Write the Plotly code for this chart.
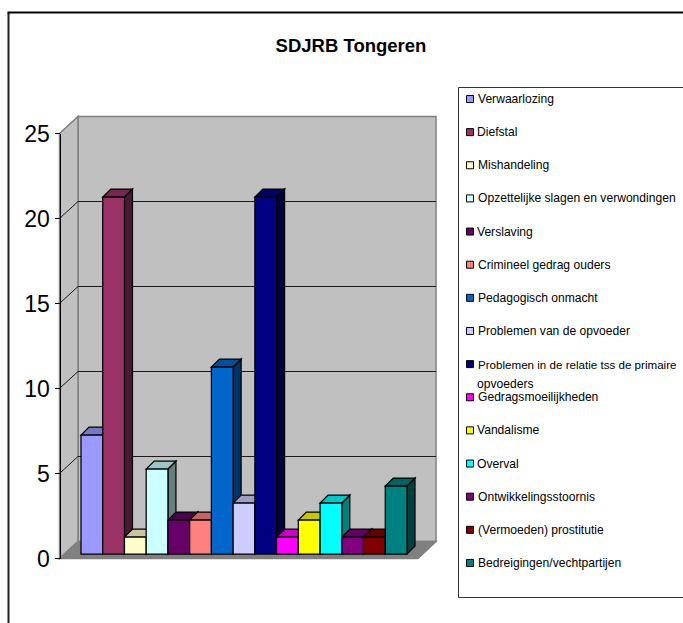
import plotly.graph_objects as go

title = "SDJRB Tongeren"
categories = ["Verwaarlozing", "Diefstal", "Mishandeling", "Opzettelijke slagen en verwondingen",
              "Verslaving", "Crimineel gedrag ouders", "Pedagogisch onmacht", "Problemen van de opvoeder",
              "Problemen in de relatie tss de primaire opvoeders", "Gedragsmoeilijkheden", "Vandalisme",
              "Overval", "Ontwikkelingsstoornis", "(Vermoeden) prostitutie", "Bedreigingen/vechtpartijen"]
values = [7, 21, 1, 5, 2, 2, 11, 3, 21, 1, 2, 3, 1, 1, 4]
colors = ["#9999FF", "#993366", "#FFFFCC", "#CCFFFF", "#660066", "#FF8080", "#0066CC", "#CCCCFF",
          "#000080", "#FF00FF", "#FFFF00", "#00FFFF", "#800080", "#800000", "#008080"]
tick_values = [0, 5, 10, 15, 20, 25]

W, H = 683, 623
fx = lambda px: px / W
fy = lambda py: 1 - py / H

# pixel scale of the bar plane
bar_left, x_unit = 81.0, 326.0 / 15
bar_base, y_unit = 554.0, 17.0
dx_px, dy_px = 8.0, 8.0
dx, dy = dx_px / x_unit, dy_px / y_unit
plot_l, plot_r, plot_t, plot_b = 20.0, 450.0, 100.0, 570.0
x_range = [(plot_l - bar_left) / x_unit - 0.5, (plot_r - bar_left) / x_unit - 0.5]
y_range = [(bar_base - plot_b) / y_unit, (bar_base - plot_t) / y_unit]


def shade(hex_color, k):
    r, g, b = (int(hex_color[i:i + 2], 16) for i in (1, 3, 5))
    return f"rgb({int(r * k)},{int(g * k)},{int(b * k)})"


def poly(points):
    return "M " + " L ".join(f"{x},{y}" for x, y in points) + " Z"


shapes = []
annotations = []

# chart frame (left and top edges are visible)
frame_x, frame_y = 8.5, 12.5
shapes.append(dict(type="line", xref="paper", yref="paper", x0=fx(frame_x), x1=fx(frame_x),
                   y0=fy(frame_y), y1=fy(H), line=dict(color="#222222", width=2)))
shapes.append(dict(type="line", xref="paper", yref="paper", x0=fx(frame_x - 1), x1=fx(W),
                   y0=fy(frame_y), y1=fy(frame_y), line=dict(color="#000000", width=2)))

# 3-D walls
front_x0, front_x1, back_x0, back_x1 = 59.5, 418.0, 78.0, 436.0
front_zero, back_zero, wall_unit = 558.5, 541.5, 17.0
back_top = back_zero - 25 * wall_unit
front_top = front_zero - 25 * wall_unit
wall_line = dict(color="#808080", width=1.5)
shapes.append(dict(type="path", xref="paper", yref="paper", layer="below", fillcolor="#C0C0C0", line=wall_line,
                   path=poly([(fx(back_x0), fy(back_top)), (fx(back_x1), fy(back_top)),
                              (fx(back_x1), fy(back_zero)), (fx(back_x0), fy(back_zero))])))
shapes.append(dict(type="path", xref="paper", yref="paper", layer="below", fillcolor="#C0C0C0", line=wall_line,
                   path=poly([(fx(front_x0), fy(front_top)), (fx(back_x0), fy(back_top)),
                              (fx(back_x0), fy(back_zero)), (fx(front_x0), fy(front_zero))])))
shapes.append(dict(type="path", xref="paper", yref="paper", layer="below", fillcolor="#808080", line=wall_line,
                   path=poly([(fx(front_x0), fy(front_zero)), (fx(back_x0), fy(back_zero)),
                              (fx(back_x1), fy(back_zero)), (fx(front_x1), fy(front_zero))])))
for t in tick_values[1:-1]:
    yb = back_zero - t * wall_unit
    shapes.append(dict(type="line", xref="paper", yref="paper", layer="below", x0=fx(back_x0), x1=fx(back_x1),
                       y0=fy(yb), y1=fy(yb), line=dict(color="#1a1a1a", width=1)))
for t in tick_values[1:]:
    yb = back_zero - t * wall_unit
    yf = front_zero - t * wall_unit
    shapes.append(dict(type="line", xref="paper", yref="paper", layer="below", x0=fx(front_x0), x1=fx(back_x0),
                       y0=fy(yf), y1=fy(yb),
                       line=dict(color="#1a1a1a" if t < 25 else "#808080", width=1)))

# top and side faces of every bar, derived from its value
edge = dict(color="#000000", width=1.25)
for i, (v, c) in enumerate(zip(values, colors)):
    l, r = i - 0.5, i + 0.5
    shapes.append(dict(type="path", xref="x", yref="y", layer="below", fillcolor=shade(c, 0.5), line=edge,
                       path=poly([(r, 0), (r + dx, dy), (r + dx, v + dy), (r, v)])))
    shapes.append(dict(type="path", xref="x", yref="y", layer="below", fillcolor=shade(c, 0.78), line=edge,
                       path=poly([(l, v), (r, v), (r + dx, v + dy), (l + dx, v + dy)])))

# legend box
leg_l, leg_t, leg_b = 458.5, 87.5, 597.5
shapes.append(dict(type="path", xref="paper", yref="paper", line=dict(color="#333333", width=1),
                   fillcolor="white",
                   path=poly([(fx(leg_l), fy(leg_t)), (fx(W + 5), fy(leg_t)), (fx(W + 5), fy(leg_b)), (fx(leg_l), fy(leg_b))])))
row0, row_step = 99.0, 33.14
for i, (name, c) in enumerate(zip(categories, colors)):
    yc = row0 + i * row_step
    shapes.append(dict(type="rect", xref="paper", yref="paper", x0=fx(466.5), x1=fx(473.5),
                       y0=fy(yc - 3.5), y1=fy(yc + 3.5), fillcolor=c, line=dict(color="#000000", width=1)))
    parts = [name]
    if name.endswith("primaire opvoeders"):
        parts = [name[:-len(" opvoeders")], "opvoeders"]
    for j, part in enumerate(parts):
        size = 11.6 if len(part) > 36 else 12.1
        annotations.append(dict(text=part, xref="paper", yref="paper", x=fx(475.5), y=fy(yc + j * 20),
                                xanchor="left", yanchor="middle", showarrow=False, align="left",
                                font=dict(family="Liberation Sans", size=size, color="#000000")))

fig = go.Figure()
for i, (name, v, c) in enumerate(zip(categories, values, colors)):
    fig.add_trace(go.Bar(x=[i], y=[v], name=name, width=1, showlegend=False,
                         marker=dict(color=c, line=dict(color="#000000", width=1.25))))
# the value axis is drawn on the front plane of the box
fig.add_trace(go.Scatter(x=[0, 14], y=tick_values[:2], yaxis="y2", mode="none", showlegend=False, hoverinfo="skip"))

fig.update_layout(
    width=W, height=H, autosize=False, margin=dict(l=0, r=0, t=0, b=0),
    paper_bgcolor="white", plot_bgcolor="rgba(0,0,0,0)", barmode="overlay", showlegend=False,
    title=dict(text=f"<b>{title}</b>", x=fx(351), xanchor="center", y=fy(46), yanchor="middle",
               font=dict(family="Liberation Sans", size=18.5, color="#000000")),
    xaxis=dict(domain=[fx(plot_l), fx(plot_r)], range=x_range, visible=False, fixedrange=True, automargin=False),
    yaxis=dict(domain=[fy(plot_b), fy(plot_t)], range=y_range, visible=False, fixedrange=True, automargin=False),
    yaxis2=dict(domain=[fy(front_zero), fy(front_top)], range=[0, 25], anchor="free", position=fx(front_x0),
                tickmode="array", tickvals=tick_values, ticks="outside", ticklen=5, automargin=False,
                tickcolor="#000000", showgrid=False, zeroline=False, showline=True, linecolor="#000000",
                linewidth=1, tickfont=dict(family="Liberation Sans", size=23, color="#000000"),
                fixedrange=True),
    shapes=shapes, annotations=annotations,
)
fig.write_html("out.html", config={"displayModeBar": False},
               post_script="document.body.style.margin='0';document.documentElement.style.overflow='hidden';")
